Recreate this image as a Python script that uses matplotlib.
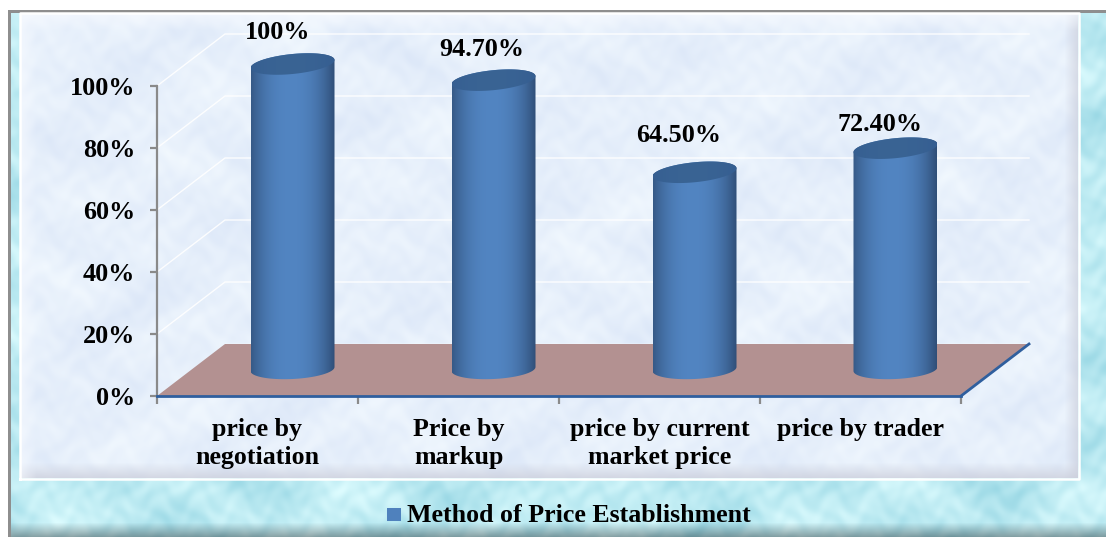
import numpy as np
import matplotlib
matplotlib.use("Agg")
import matplotlib.pyplot as plt
from matplotlib.patches import Polygon, Rectangle

categories = ["price by\nnegotiation", "Price by\nmarkup", "price by current\nmarket price", "price by trader"]
values = [100, 94.7, 64.5, 72.4]
value_labels = ["100%", "94.70%", "64.50%", "72.40%"]
y_ticks = [0, 20, 40, 60, 80, 100]
y_tick_labels = ["0%", "20%", "40%", "60%", "80%", "100%"]
legend_label = "Method of Price Establishment"
label_dx_px = [-15, -12, -16, -15]
label_dy_px = [32, 31, 37, 24]

W, H = 1106, 537
plt.rcParams['font.family'] = ['Liberation Serif', 'DejaVu Serif']
fig = plt.figure(figsize=(W/100, H/100), dpi=100, facecolor="white")

def px_axes(l, t, r, b, z):
    return fig.add_axes([l/W, 1-b/H, (r-l)/W, (b-t)/H], zorder=z)

# page background, pixel space
bg = px_axes(0, 0, W, H, 0)
bg.set_xlim(0, W); bg.set_ylim(H, 0); bg.axis("off")
yy, xx = np.mgrid[0:H, 0:W].astype(float)
tex = (np.sin(xx/23.0+np.sin(yy/17.0)*2)+np.sin(yy/13.0+np.cos(xx/29.0)*2)+np.sin((xx+yy)/41.0)
       + 0.7*np.sin(xx/5.3+np.sin(yy/7.1)*2.5)+0.7*np.sin(yy/4.7+np.cos(xx/6.3)*2.5))/4.4

# teal frame with droplet-like mottling, darker toward the bottom edge
frame = np.array([0.74, 0.92, 0.95])[None, None, :] + tex[..., None]*np.array([0.13, 0.07, 0.05])
frame = frame*(1-0.35*np.clip((yy-522)/15, 0, 1)[..., None])
frame = np.clip(frame, 0, 1)
frame[:11] = 1; frame[:, :8] = 1
frame[10:13, 8:] = [0.56, 0.56, 0.56]; frame[10:, 8:11] = [0.56, 0.56, 0.56]

# inner panel with bevelled edges
panel = np.array([0.905, 0.94, 0.985])[None, None, :] + tex[..., None]*np.array([0.04, 0.032, 0.012])
bev_b = np.clip((yy-462)/16, 0, 1)[..., None]
bev_r = np.clip((xx-1064)/14, 0, 1)[..., None]
bev_l = np.clip((36-xx)/16, 0, 1)[..., None]
bev_t = np.clip((30-yy)/17, 0, 1)[..., None]
grey = np.array([0.80, 0.81, 0.86])
panel = panel*(1-0.8*bev_b)+grey*0.8*bev_b
panel = panel*(1-0.7*bev_r)+grey*0.7*bev_r
panel = panel*(1-0.6*bev_l)+np.array([0.97, 0.98, 1.0])*0.6*bev_l
panel = panel*(1-0.7*bev_t)+np.array([0.97, 0.98, 1.0])*0.7*bev_t
img = frame.copy()
mask = (xx >= 20) & (xx < 1078) & (yy >= 13) & (yy < 478)
img[mask] = np.clip(panel, 0, 1)[mask]
bg.imshow(img, extent=(0, W, H, 0), aspect="auto", zorder=1)
bg.plot([20, 20, 1079, 1079, 20], [478.5, 13, 13, 478.5, 478.5], color="white", lw=1.8, zorder=4)

# main axes: plotted wall and floor
L, R, Y0, Y100 = 157, 961, 396, 86
ax = px_axes(L, Y100, R, Y0, 2)
ax.set_xlim(0, 4); ax.set_ylim(0, 100)
ax.patch.set_alpha(0)
for s in ["top", "right"]:
    ax.spines[s].set_visible(False)
ax.spines["left"].set_color("#8a8a8a"); ax.spines["left"].set_linewidth(1.6)
ax.spines["bottom"].set_color("#2f5f9e"); ax.spines["bottom"].set_linewidth(2)
ax.set_yticks(y_ticks); ax.set_yticklabels(y_tick_labels, fontsize=18.8, fontweight="bold", color="black")
ax.set_xticks(range(5)); ax.set_xticklabels([])
ax.tick_params(axis="x", color="#8a8a8a", width=1.6, length=6)
ax.tick_params(axis="y", color="#8a8a8a", width=1.6, length=5, pad=10.5)
for i, c in enumerate(categories):
    ax.text(i+0.5, -7.2, c, ha="center", va="top", fontsize=18.6, fontweight="bold", linespacing=1.28)

dx_depth, dy_depth = 68/((R-L)/4), 52/((Y0-Y100)/100)
floor = Polygon([(0, 0), (4, 0), (4+dx_depth, dy_depth), (dx_depth, dy_depth)], closed=True,
                facecolor="#b39191", edgecolor="none", clip_on=False, zorder=1)
ax.add_patch(floor)
ax.plot([4, 4+dx_depth], [0, dy_depth], color="#2f5f9e", lw=2, clip_on=False, zorder=2)
for t in y_ticks[1:]:
    ax.plot([0, dx_depth, 4+dx_depth], [t, t+dy_depth, t+dy_depth], color="white", lw=1.0, alpha=0.9,
            clip_on=False, zorder=0.5)
ax.plot([dx_depth, 4+dx_depth], [dy_depth, dy_depth], color="white", lw=1.0, clip_on=False, zorder=0.6)

# bars axes: offset to the depth plane, with spare room so the caps are not cut
SC = 3.05
BASE = 369
YLO, YHI = -12, 112
bax = px_axes(192, BASE-YHI*SC, 996, BASE-YLO*SC, 3)
half = 42/201
eh = 10/SC
tilt_top = 4/SC
tilt_base = 2/SC

def ell(i, v, lo, hi, tilt):
    th = np.linspace(lo, hi, 80)
    return i+half*np.cos(th), v+eh*np.sin(th)+tilt*np.cos(th)

u = np.linspace(-1, 1, 128)
shade = np.abs(u+0.05)**2.3
ramp = np.outer(1-shade, [0.32, 0.52, 0.76]) + np.outer(shade, [0.20, 0.33, 0.50])
top_ramp = np.outer(1-shade, [0.225, 0.39, 0.58]) + np.outer(shade, [0.21, 0.37, 0.57])
for i, (v, lab, dxp, dyp) in enumerate(zip(values, value_labels, label_dx_px, label_dy_px)):
    xb, yb = ell(i, 0, np.pi, 2*np.pi, tilt_base)
    xt, yt = ell(i, v, 0, np.pi, tilt_top)
    body = Polygon(np.r_[np.c_[xb, yb], np.c_[xt, yt]], closed=True, facecolor="none", edgecolor="none")
    bax.add_patch(body)
    im = bax.imshow(ramp[None, ...], extent=(i-half, i+half, -8, v+8), aspect="auto", zorder=2)
    im.set_clip_path(body)
    xc, yc = ell(i, v, 0, 2*np.pi, tilt_top)
    cap = Polygon(np.c_[xc, yc], closed=True, facecolor="none", edgecolor="none")
    bax.add_patch(cap)
    im2 = bax.imshow(top_ramp[None, ...], extent=(i-half, i+half, v-8, v+8), aspect="auto", zorder=3)
    im2.set_clip_path(cap)
    bax.annotate(lab, xy=(i, v), xytext=(dxp*0.72, dyp*0.72), textcoords="offset points",
                 ha="center", va="center", fontsize=18.8, fontweight="bold",
                 annotation_clip=False, zorder=5)
bax.set_xlim(-0.5, 3.5); bax.set_ylim(YLO, YHI); bax.axis("off")

# legend
bg.add_patch(Rectangle((387, 508), 14, 13, facecolor="#4f81bd", edgecolor="none", zorder=6))
bg.text(407, 516, legend_label, ha="left", va="center", fontsize=18.6, fontweight="bold", zorder=6)

fig.savefig("out.png", dpi=100, facecolor="white")
